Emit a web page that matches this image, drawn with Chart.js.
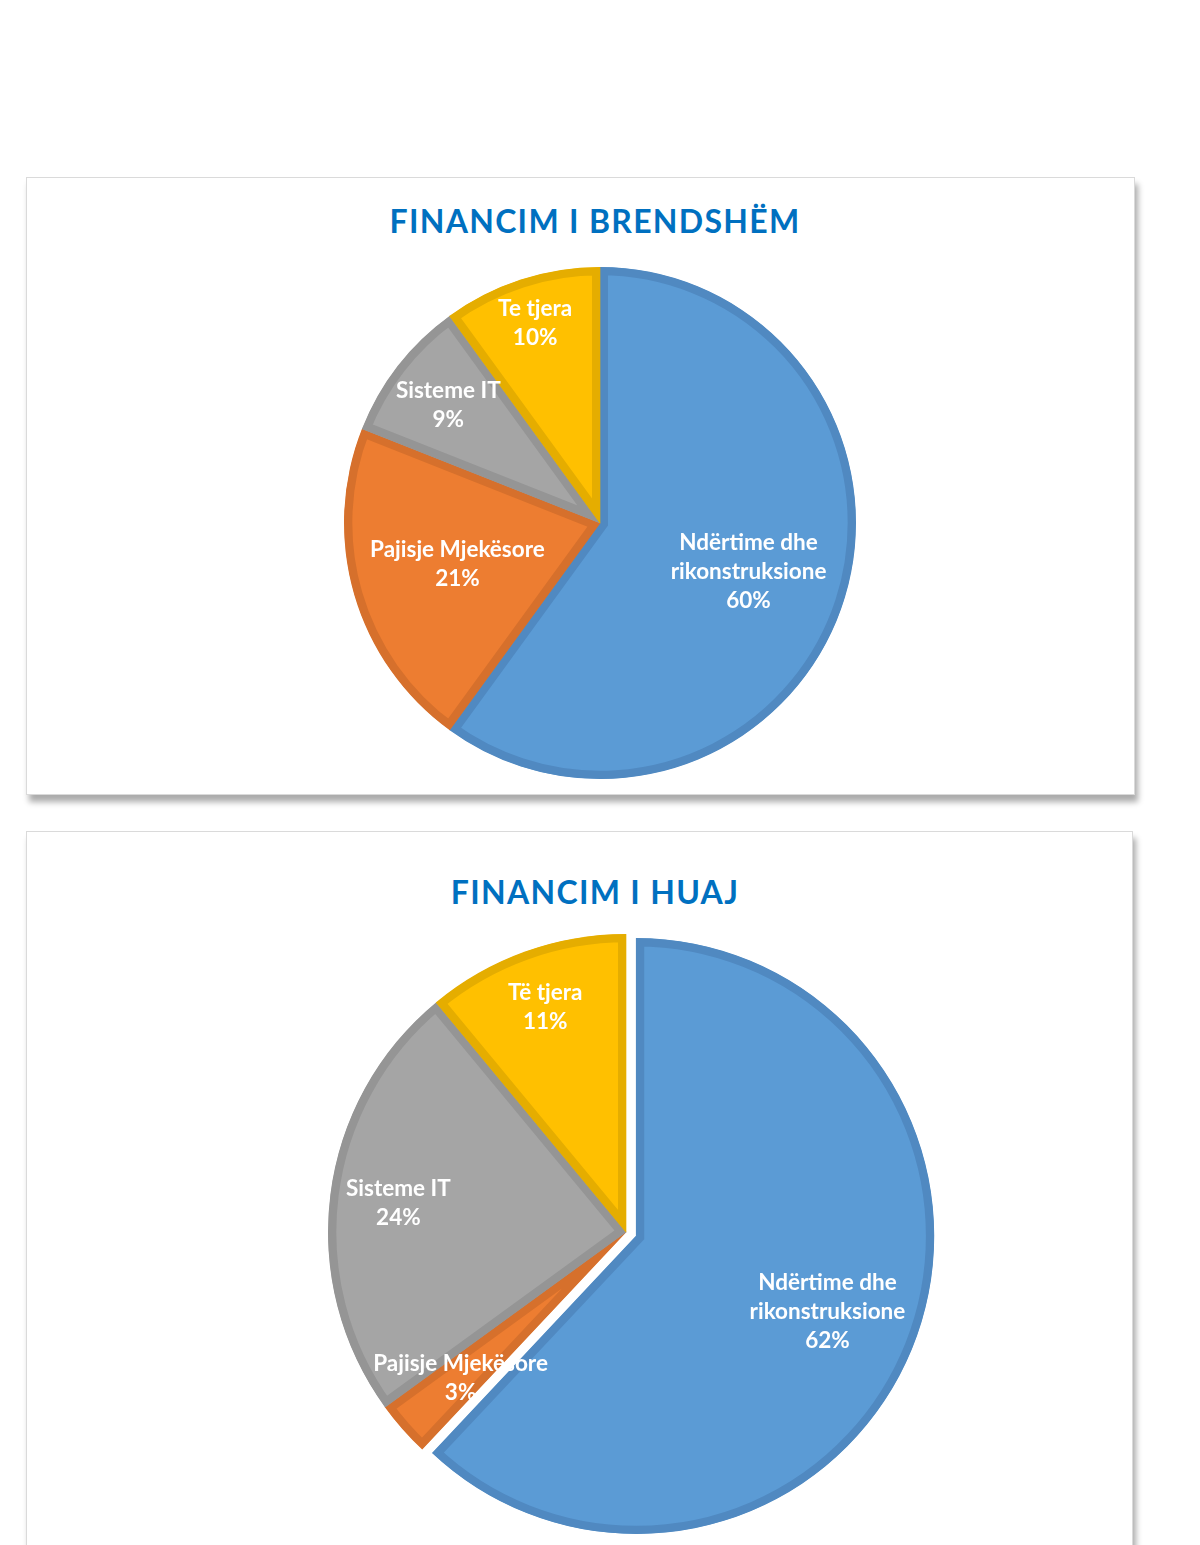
<!DOCTYPE html>
<html>
<head>
<meta charset="utf-8">
<script src="https://cdn.jsdelivr.net/npm/chart.js@4"></script>
<style>
  body { margin: 0; background: #fff; width: 1200px; height: 1545px; overflow: hidden; position: relative; font-family: Lato, "Open Sans", sans-serif; }
  .kuti { position: absolute; box-sizing: border-box; background: #fff; border: 1px solid #dadada; box-shadow: 3px 7px 6px rgba(0,0,0,0.33); overflow: hidden; }
  .titull { position: absolute; left: 0; width: 1136px; text-align: center; color: #0070C0; font: bold 32px Lato, sans-serif; line-height: 38px; margin: 0; letter-spacing: 1.3px; }
  canvas { position: absolute; }
</style>
</head>
<body>

<div class="kuti" style="left:26px; top:177px; width:1109px; height:618px;">
  <div class="titull" style="top:24px;">FINANCIM I BRENDSHËM</div>
  <canvas id="GrafikuBrendshem" width="560" height="560" style="left:293px; top:65px; width:560px; height:560px;"></canvas>
</div>

<div class="kuti" style="left:26px; top:831px; width:1107px; height:800px;">
  <div class="titull" style="top:41px;">FINANCIM I HUAJ</div>
  <canvas id="GrafikuHuaj" width="640" height="640" style="left:279px; top:80px; width:640px; height:640px;"></canvas>
</div>

<script>
// te dhenat
var kategoriteBrendshem = [['Ndërtime dhe', 'rikonstruksione'], 'Pajisje Mjekësore', 'Sisteme IT', 'Te tjera'];
var vlerateBrendshem = [60, 21, 9, 10];

var kategoriteHuaj = [['Ndërtime dhe', 'rikonstruksione'], 'Pajisje Mjekësore', 'Sisteme IT', 'Të tjera'];
var vlerateHuaj = [62, 3, 24, 11];

var ngjyrat = ["#5B9BD5", "#ED7D31", "#A5A5A5", "#FFC000"];
var ngjyratKufiri = ["#5089C1", "#D6702C", "#959595", "#E5AD00"];

// fete e shkeputur: levizim qendren e harkut (offset i Chart.js zmadhon edhe rrezen)
var shkeputjaPlugin = {
    id: 'shkeputja',
    beforeDatasetsDraw: function (chart, args, opts) {
        var meta = chart.getDatasetMeta(0);
        var a = chart.chartArea;
        var cx = (a.left + a.right) / 2, cy = (a.top + a.bottom) / 2;
        meta.data.forEach(function (arc, i) {
            var d = opts.largesia[i] || 0;
            var mes = (arc.startAngle + arc.endAngle) / 2;
            arc.x = cx + Math.cos(mes) * d;
            arc.y = cy + Math.sin(mes) * d;
        });
    }
};

// etiketat brenda feteve (si ne Excel)
var etiketatPlugin = {
    id: 'etiketat',
    afterDatasetsDraw: function (chart, args, opts) {
        var ctx = chart.ctx;
        var meta = chart.getDatasetMeta(0);
        var data = chart.data.datasets[0].data;
        ctx.save();
        ctx.fillStyle = '#fff';
        ctx.font = 'bold 22.5px Lato, sans-serif';
        ctx.textAlign = 'center';
        ctx.textBaseline = 'middle';
        meta.data.forEach(function (arc, i) {
            var p = arc.getProps(['x', 'y', 'startAngle', 'endAngle', 'outerRadius'], true);
            var mes = (p.startAngle + p.endAngle) / 2;
            var r = p.outerRadius * opts.largesia[i];
            var x = p.x + Math.cos(mes) * r;
            var y = p.y + Math.sin(mes) * r;
            var lbl = chart.data.labels[i];
            var rreshtat = (Array.isArray(lbl) ? lbl.slice() : [lbl]);
            rreshtat.push(data[i] + '%');
            var lh = 29;
            var y0 = y - (rreshtat.length - 1) * lh / 2;
            rreshtat.forEach(function (t, k) {
                ctx.fillText(t, x, y0 + k * lh);
            });
        });
        ctx.restore();
    }
};

function VizatoPie(id, kategorite, vlerat, rrezja, shkeputja, largesia) {
    var ctx = document.getElementById(id).getContext('2d');
    return new Chart(ctx, {
        type: 'pie',
        data: {
            labels: kategorite,
            datasets: [{
                data: vlerat,
                backgroundColor: ngjyrat,
                borderColor: ngjyratKufiri,
                borderWidth: 8,
                borderAlign: 'inner',
                borderJoinStyle: 'miter',
                radius: rrezja
            }]
        },
        options: {
            responsive: false,
            animation: false,
            layout: { padding: 0 },
            plugins: {
                legend: { display: false },
                title: { display: false },
                tooltip: { enabled: false },
                shkeputja: { largesia: shkeputja },
                etiketat: { largesia: largesia }
            }
        },
        plugins: [shkeputjaPlugin, etiketatPlugin]
    });
}

VizatoPie("GrafikuBrendshem", kategoriteBrendshem, vlerateBrendshem, 256, [0, 0, 0, 0], [0.61, 0.58, 0.75, 0.82]);
VizatoPie("GrafikuHuaj", kategoriteHuaj, vlerateHuaj, 298, [11, 0, 0, 0], [0.69, 0.74, 0.77, 0.80]);
</script>
</body>
</html>
